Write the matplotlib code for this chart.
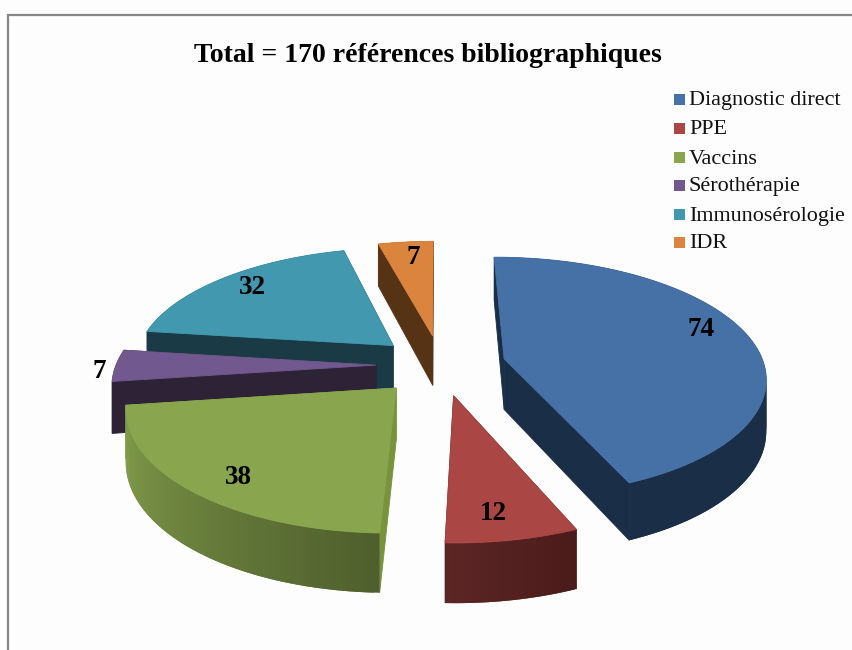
import numpy as np
import matplotlib
matplotlib.use("Agg")
import matplotlib.pyplot as plt
from matplotlib.colors import to_rgb
from matplotlib.patches import Polygon, Rectangle

# ---------------- data ----------------
categories = ["Diagnostic direct", "PPE", "Vaccins", "Sérothérapie", "Immunosérologie", "IDR"]
values = [74, 12, 38, 7, 32, 7]
title = "Total = 170 références bibliographiques"

top_colors = ["#4571a6", "#aa4643", "#89a54e", "#71588f", "#4198af", "#db843d"]
wall_colors = ["#1b2e47", "#4a1b1a", "#77933c", "#2d2236", "#1a3a45", "#573315"]
# outer rim colour at the start and at the end of each slice (clockwise)
rim_start = ["#1b2e47", "#4a1b1a", "#4f5f2d", "#2d2236", "#1a3a45", "#573315"]
rim_end = ["#1b2e47", "#5c2625", "#84a04c", "#2d2236", "#1a3a45", "#573315"]

# ---------------- pie geometry, pixels ----------------
cx, cy = 441, 365      # pie centre
rx, ry = 260, 121      # radii of the tilted disc
persp = 0.145          # nearer parts look bigger
depth = 51             # thickness
explode = 0.25
first_angle = -0.2
label_xy = [(701, 330), (493, 513), (238, 478), (99, 372), (252, 287), (413, 258)]

W, H = 852, 650
fig = plt.figure(figsize=(W / 100, H / 100), dpi=100, facecolor="#fdfdfd")
ax = fig.add_axes([0, 0, 1, 1])
ax.set_xlim(0, W)
ax.set_ylim(H, 0)
ax.axis("off")
serif = "Liberation Serif"


def project(u, v, down=0.0):
    # u to the right, v towards the viewer, in disc radii
    s = 1 + persp * v
    return cx + rx * u * s, cy + ry * v * s + down * s


def quad(pts, color, zorder, lw=0.6):
    ax.add_patch(Polygon(pts, closed=True, fc=color, ec=color, lw=lw, zorder=zorder))


# clockwise from 12 o'clock
edges = first_angle + np.concatenate([[0], np.cumsum(values)]) / sum(values) * 360

# back to front
order = [5, 4, 3, 0, 2, 1]
for z, i in enumerate(order):
    t = np.radians(np.linspace(edges[i], edges[i + 1], 80))
    mid = np.radians((edges[i] + edges[i + 1]) / 2)
    ou, ov = explode * np.sin(mid), -explode * np.cos(mid)
    au, av = ou + np.sin(t), ov - np.cos(t)

    apex_top = project(ou, ov)
    apex_bot = project(ou, ov, depth)
    arc_top = np.array([project(a, b) for a, b in zip(au, av)])
    arc_bot = np.array([project(a, b, depth) for a, b in zip(au, av)])

    base = z * 10 + 2
    # side walls along both radial edges
    quad([apex_top, arc_top[0], arc_bot[0], apex_bot], wall_colors[i], base)
    quad([apex_top, arc_top[-1], arc_bot[-1], apex_bot], wall_colors[i], base)

    # outer rim, shaded piece by piece; each piece overlaps the next to hide seams
    c0, c1 = np.array(to_rgb(rim_start[i])), np.array(to_rgb(rim_end[i]))
    n = len(t)
    for k in range(n - 1):
        f = k / (n - 2)
        e = min(k + 2, n - 1)
        quad([arc_top[k], arc_top[e], arc_bot[e], arc_bot[k]],
             tuple(c0 + (c1 - c0) * f), base + 1, lw=0)

    # top face
    quad(np.vstack([apex_top, arc_top]), top_colors[i], base + 2)

    ax.text(label_xy[i][0], label_xy[i][1], str(values[i]), family=serif, weight="bold",
            fontsize=19.5, color="black", ha="center", va="center", zorder=100)

# ---------------- frame, title, legend ----------------
ax.plot([7.5, 7.5, W], [H, 14.5, 14.5], color="#868686", lw=1.6, zorder=200,
        solid_joinstyle="miter")
ax.text(428, 55, title, family=serif, weight="bold", fontsize=20, color="black",
        ha="center", va="center", zorder=100)

legend_y = [99, 128, 157, 185, 214, 242]
for name, color, y in zip(categories, top_colors, legend_y):
    ax.add_patch(Rectangle((674, y - 5.5), 11, 11, fc=color, ec="none", zorder=100))
    ax.text(689, y + 2, name, family=serif, fontsize=15.9, color="#111111", ha="left",
            va="center", zorder=100)

fig.savefig("out.png", dpi=100, facecolor=fig.get_facecolor())
